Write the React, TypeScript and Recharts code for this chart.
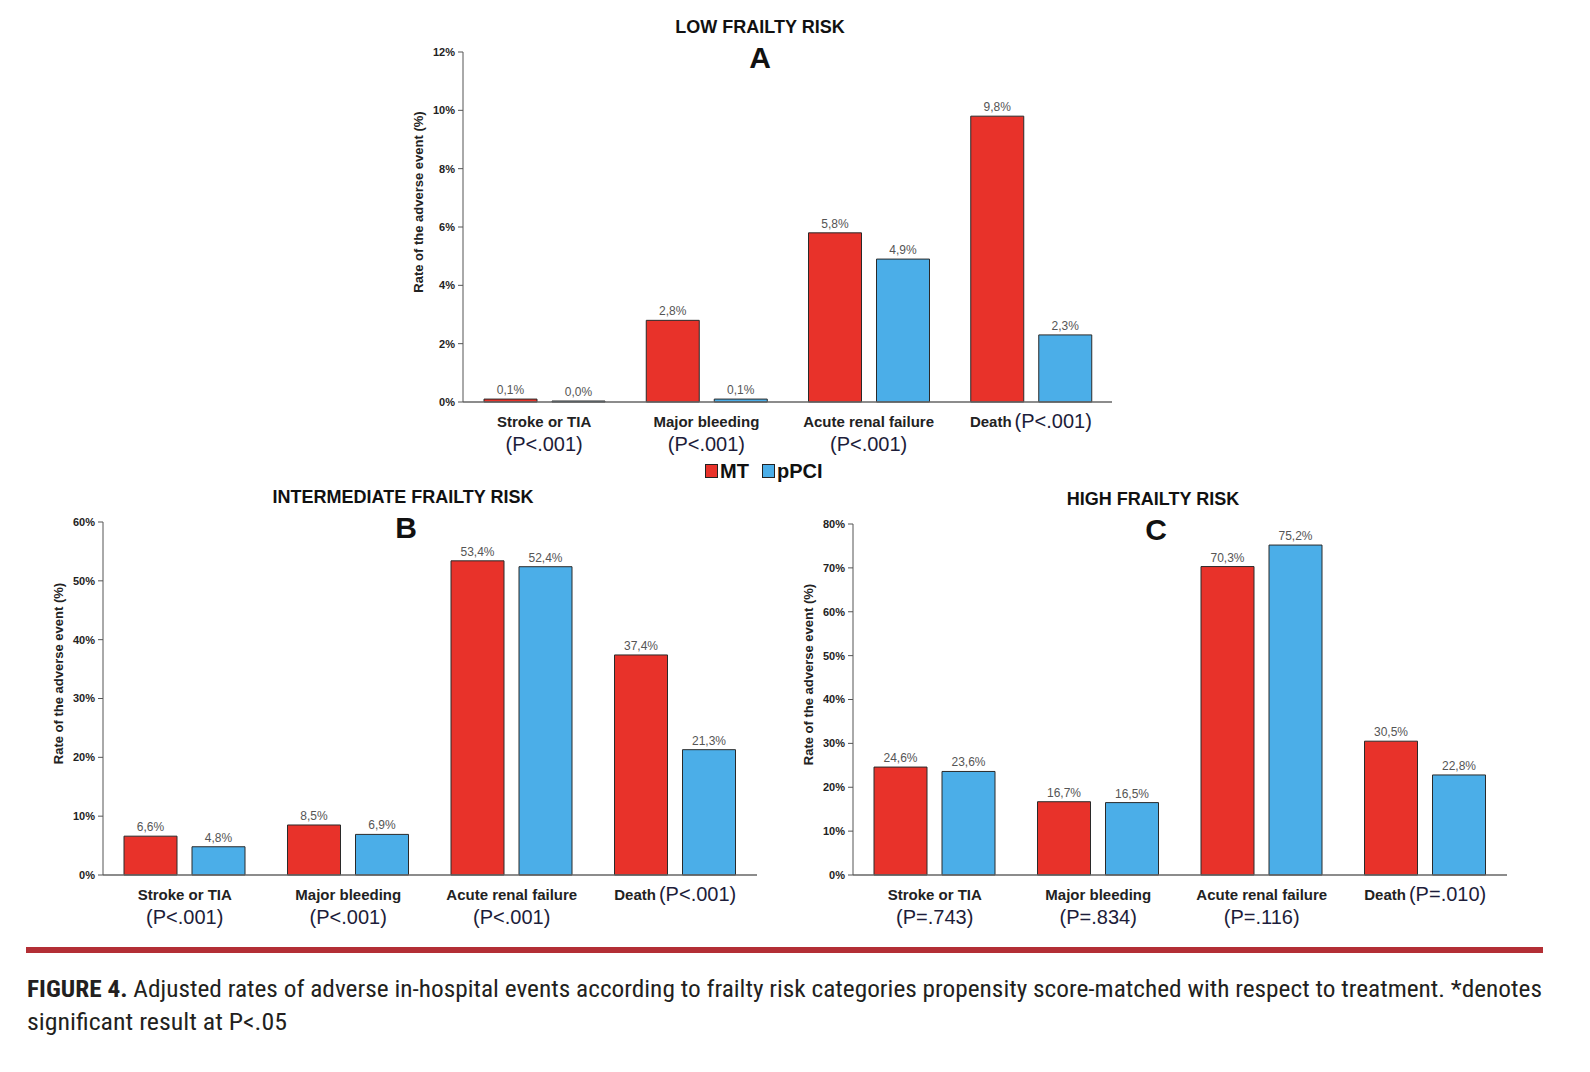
import { Bar, BarChart, LabelList, XAxis, YAxis } from 'recharts'

const categories = ['Stroke or TIA', 'Major bleeding', 'Acute renal failure', 'Death']

const lowMT = [0.1, 2.8, 5.8, 9.8]
const lowPPCI = [0.0, 0.1, 4.9, 2.3]
const lowP = ['(P<.001)', '(P<.001)', '(P<.001)', '(P<.001)']

const intMT = [6.6, 8.5, 53.4, 37.4]
const intPPCI = [4.8, 6.9, 52.4, 21.3]
const intP = ['(P<.001)', '(P<.001)', '(P<.001)', '(P<.001)']

const highMT = [24.6, 16.7, 70.3, 30.5]
const highPPCI = [23.6, 16.5, 75.2, 22.8]
const highP = ['(P=.743)', '(P=.834)', '(P=.116)', '(P=.010)']

const lowTicks = [0, 2, 4, 6, 8, 10, 12]
const intTicks = [0, 10, 20, 30, 40, 50, 60]
const highTicks = [0, 10, 20, 30, 40, 50, 60, 70, 80]

const RED = '#E8322A'
const BLUE = '#4BAEE8'
const FONT = '"Liberation Sans", Arial, sans-serif'

const toRows = (mt: number[], ppci: number[]) =>
  categories.map((name, i) => ({ name, MT: mt[i], pPCI: ppci[i] }))

const fmt = (v: any) => Number(v).toFixed(1).replace('.', ',') + '%'

function CategoryTick(props: any) {
  const { x, y, payload, pvals } = props
  const name = payload.value
  const p = pvals[payload.index]
  if (name === 'Death') {
    return (
      <text x={x} y={y + 19} textAnchor="middle" dominantBaseline="central" fontFamily={FONT}>
        <tspan fontSize={15} fontWeight="bold" fill="#222">Death</tspan>
        <tspan fontSize={20} fill="#1d1d3a" dx={3}>{p}</tspan>
      </text>
    )
  }
  return (
    <g>
      <text x={x} y={y + 19} textAnchor="middle" dominantBaseline="central" fontFamily={FONT}
        fontSize={15} fontWeight="bold" fill="#222">{name}</text>
      <text x={x} y={y + 42} textAnchor="middle" dominantBaseline="central" fontFamily={FONT}
        fontSize={20} fill="#1d1d3a">{p}</text>
    </g>
  )
}

function YTitle(props: any) {
  const { viewBox } = props
  const cx = viewBox.x + viewBox.width - 45
  const cy = viewBox.y + viewBox.height / 2 - 25
  return (
    <text x={cx} y={cy} transform={`rotate(-90 ${cx} ${cy})`} textAnchor="middle" dominantBaseline="central"
      fontFamily={FONT} fontSize={13} fontWeight="bold" fill="#222">
      Rate of the adverse event (%)
    </text>
  )
}

type PanelProps = {
  left: number; top: number; width: number; height: number; marginTop: number
  mt: number[]; ppci: number[]; pvals: string[]; ticks: number[]
}

function Panel({ left, top, width, height, marginTop, mt, ppci, pvals, ticks }: PanelProps) {
  const data = toRows(mt, ppci)
  return (
    <div style={{ position: 'absolute', left, top }}>
      <BarChart width={width} height={height} data={data} barCategoryGap={21} barGap={15}
        margin={{ top: marginTop, right: 10, left: 0, bottom: 0 }} style={{ overflow: 'visible' }}>
        <XAxis dataKey="name" height={60} tickLine={false} tickSize={0} tickMargin={0} interval={0}
          axisLine={{ stroke: '#666', strokeWidth: 1.5 }}
          tick={(p: any) => <CategoryTick {...p} pvals={pvals} />} />
        <YAxis width={63} domain={[0, ticks[ticks.length - 1]]} ticks={ticks} interval={0}
          tickFormatter={(v: number) => v + '%'} tickSize={5} tickMargin={3}
          axisLine={{ stroke: '#555' }} tickLine={{ stroke: '#555' }}
          tick={{ fontSize: 11, fontWeight: 'bold', fill: '#222', fontFamily: FONT }}
          label={<YTitle />} />
        <Bar dataKey="MT" fill={RED} stroke="#2a2a2a" strokeWidth={1} minPointSize={1} isAnimationActive={false}>
          <LabelList dataKey="MT" position="top" formatter={fmt} fontSize={12} fill="#555" fontFamily={FONT} />
        </Bar>
        <Bar dataKey="pPCI" fill={BLUE} stroke="#2a2a2a" strokeWidth={1} minPointSize={1} isAnimationActive={false}>
          <LabelList dataKey="pPCI" position="top" formatter={fmt} fontSize={12} fill="#555" fontFamily={FONT} />
        </Bar>
      </BarChart>
    </div>
  )
}

export default function App() {
  return (
    <div style={{ position: 'absolute', left: 0, top: 0, width: 1590, height: 1072, background: '#fff', fontFamily: FONT }}>
      <Panel left={400} top={20} width={722} height={442} marginTop={32}
        mt={lowMT} ppci={lowPPCI} pvals={lowP} ticks={lowTicks} />
      <Panel left={40} top={490} width={727} height={445} marginTop={32}
        mt={intMT} ppci={intPPCI} pvals={intP} ticks={intTicks} />
      <Panel left={790} top={490} width={727} height={445} marginTop={34}
        mt={highMT} ppci={highPPCI} pvals={highP} ticks={highTicks} />
      <svg width={1590} height={1072} style={{ position: 'absolute', left: 0, top: 0, pointerEvents: 'none' }}>
        <g fontFamily={FONT} fontWeight="bold" fill="#111" textAnchor="middle" dominantBaseline="central">
          <text x={760} y={27} fontSize={18}>LOW FRAILTY RISK</text>
          <text x={760} y={57} fontSize={30}>A</text>
          <text x={403} y={497} fontSize={18}>INTERMEDIATE FRAILTY RISK</text>
          <text x={406} y={527} fontSize={30}>B</text>
          <text x={1153} y={499} fontSize={18}>HIGH FRAILTY RISK</text>
          <text x={1156} y={529} fontSize={30}>C</text>
        </g>
        <g fontFamily={FONT} fontWeight="bold" fontSize={20} fill="#111" dominantBaseline="central">
          <rect x={705.5} y={464.5} width={12} height={13} fill={RED} stroke="#222" />
          <text x={720} y={471}>MT</text>
          <rect x={762.5} y={464.5} width={12} height={13} fill={BLUE} stroke="#222" />
          <text x={777} y={471}>pPCI</text>
        </g>
        <rect x={26} y={947} width={1517} height={6} fill="#B32F35" />
        <g fontFamily='"Liberation Sans Narrow", "Roboto Condensed", "Liberation Sans", sans-serif' fontSize={23} fill="#231f20">
          <text x={27} y={997} textLength={1515} lengthAdjust="spacingAndGlyphs">
            <tspan fontWeight="bold">FIGURE 4.</tspan>
            <tspan> Adjusted rates of adverse in-hospital events according to frailty risk categories propensity score-matched with respect to treatment. *denotes</tspan>
          </text>
          <text x={27} y={1030} textLength={260} lengthAdjust="spacingAndGlyphs">significant result at P&lt;.05</text>
        </g>
      </svg>
    </div>
  )
}
